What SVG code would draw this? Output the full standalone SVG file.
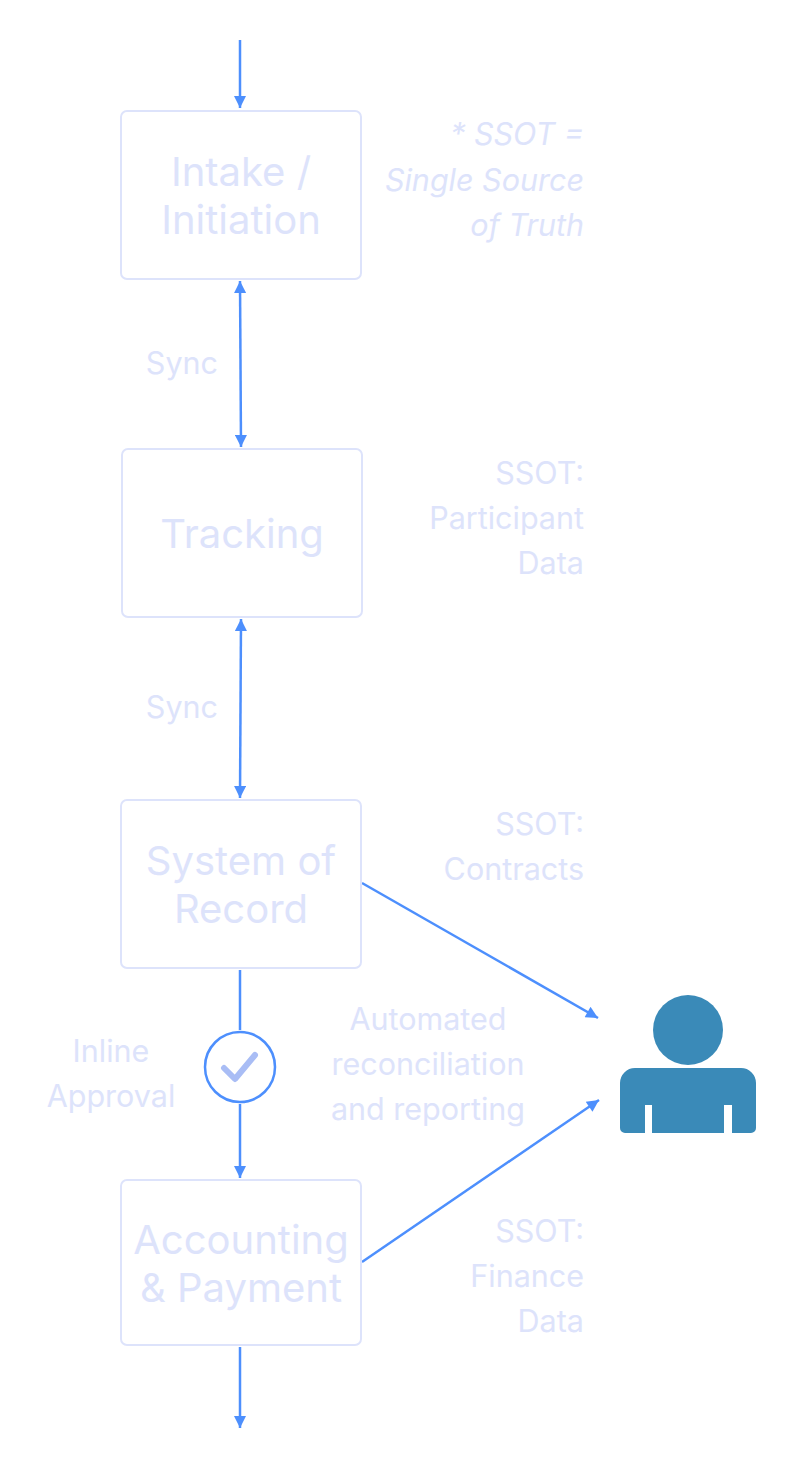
<svg xmlns="http://www.w3.org/2000/svg" width="796" height="1467" viewBox="0 0 796 1467">
<style>
.box{fill:#fff;stroke:#dde3fb;stroke-width:2}
.nt{font-family:Inter,"Liberation Sans",sans-serif;font-size:40px;fill:#dde3fb;text-anchor:middle}
.lb{font-family:Inter,"Liberation Sans",sans-serif;font-size:30.5px;fill:#dde3fb}
.c{stroke:#4d8ffd;stroke-width:2.5;fill:none}
</style>
<defs>
<marker id="a" viewBox="0 0 10 10" refX="10" refY="5" markerWidth="14" markerHeight="12" markerUnits="userSpaceOnUse" orient="auto-start-reverse"><path d="M0,0L10,5L0,10z" fill="#4d8ffd"/></marker>
</defs>
<g id="connectors">
<line class="c" x1="240" y1="40" x2="240" y2="108" marker-end="url(#a)"/>
<line class="c" x1="240" y1="281" x2="241" y2="447" marker-start="url(#a)" marker-end="url(#a)"/>
<line class="c" x1="241" y1="619" x2="240" y2="798" marker-start="url(#a)" marker-end="url(#a)"/>
<line class="c" x1="240" y1="970" x2="240" y2="1030"/>
<line class="c" x1="240" y1="1104" x2="240" y2="1178" marker-end="url(#a)"/>
<line class="c" x1="240" y1="1347" x2="240" y2="1428" marker-end="url(#a)"/>
<line class="c" x1="362" y1="883" x2="598" y2="1018" marker-end="url(#a)"/>
<line class="c" x1="362" y1="1262" x2="599" y2="1100" marker-end="url(#a)"/>
</g>
<g id="intake"><rect class="box" x="121" y="111" width="240" height="168" rx="6"/><text class="nt" x="241" y="186">Intake /</text><text class="nt" x="241" y="234">Initiation</text></g>
<g id="tracking"><rect class="box" x="122" y="449" width="240" height="168" rx="6"/><text class="nt" x="242" y="548">Tracking</text></g>
<g id="sor"><rect class="box" x="121" y="800" width="240" height="168" rx="6"/><text class="nt" x="241" y="875">System of</text><text class="nt" x="241" y="923">Record</text></g>
<g id="acct"><rect class="box" x="121" y="1180" width="240" height="165" rx="6"/><text class="nt" x="241" y="1254">Accounting</text><text class="nt" x="241" y="1302">&amp; Payment</text></g>
<g id="approval"><circle cx="240" cy="1067" r="35" fill="#fff" stroke="#4d8ffd" stroke-width="2.5"/><path d="M224,1068L235,1079L255,1055" stroke="#a9bdf5" stroke-width="6" fill="none" stroke-linecap="round" stroke-linejoin="round"/></g>
<g id="person" fill="#3a8ab8"><circle cx="688" cy="1030" r="35"/><path d="M635,1068H741A15,15 0 0 1 756,1083V1128A5,5 0 0 1 751,1133H732V1105H724V1133H652V1105H645V1133H625A5,5 0 0 1 620,1128V1083A15,15 0 0 1 635,1068Z"/></g>
<g id="labels">
<text class="lb" x="584" y="145" text-anchor="end" font-style="italic">* SSOT =</text>
<text class="lb" x="584" y="191" text-anchor="end" font-style="italic">Single Source</text>
<text class="lb" x="584" y="236" text-anchor="end" font-style="italic">of Truth</text>
<text class="lb" x="218" y="374" text-anchor="end">Sync</text>
<text class="lb" x="218" y="718" text-anchor="end">Sync</text>
<text class="lb" x="584" y="484" text-anchor="end">SSOT:</text>
<text class="lb" x="584" y="529" text-anchor="end">Participant</text>
<text class="lb" x="584" y="574" text-anchor="end">Data</text>
<text class="lb" x="584" y="835" text-anchor="end">SSOT:</text>
<text class="lb" x="584" y="880" text-anchor="end">Contracts</text>
<text class="lb" x="111" y="1062" text-anchor="middle">Inline</text>
<text class="lb" x="111" y="1107" text-anchor="middle">Approval</text>
<text class="lb" x="428" y="1030" text-anchor="middle">Automated</text>
<text class="lb" x="428" y="1075" text-anchor="middle">reconciliation</text>
<text class="lb" x="428" y="1120" text-anchor="middle">and reporting</text>
<text class="lb" x="584" y="1242" text-anchor="end">SSOT:</text>
<text class="lb" x="584" y="1287" text-anchor="end">Finance</text>
<text class="lb" x="584" y="1332" text-anchor="end">Data</text>
</g>
</svg>
